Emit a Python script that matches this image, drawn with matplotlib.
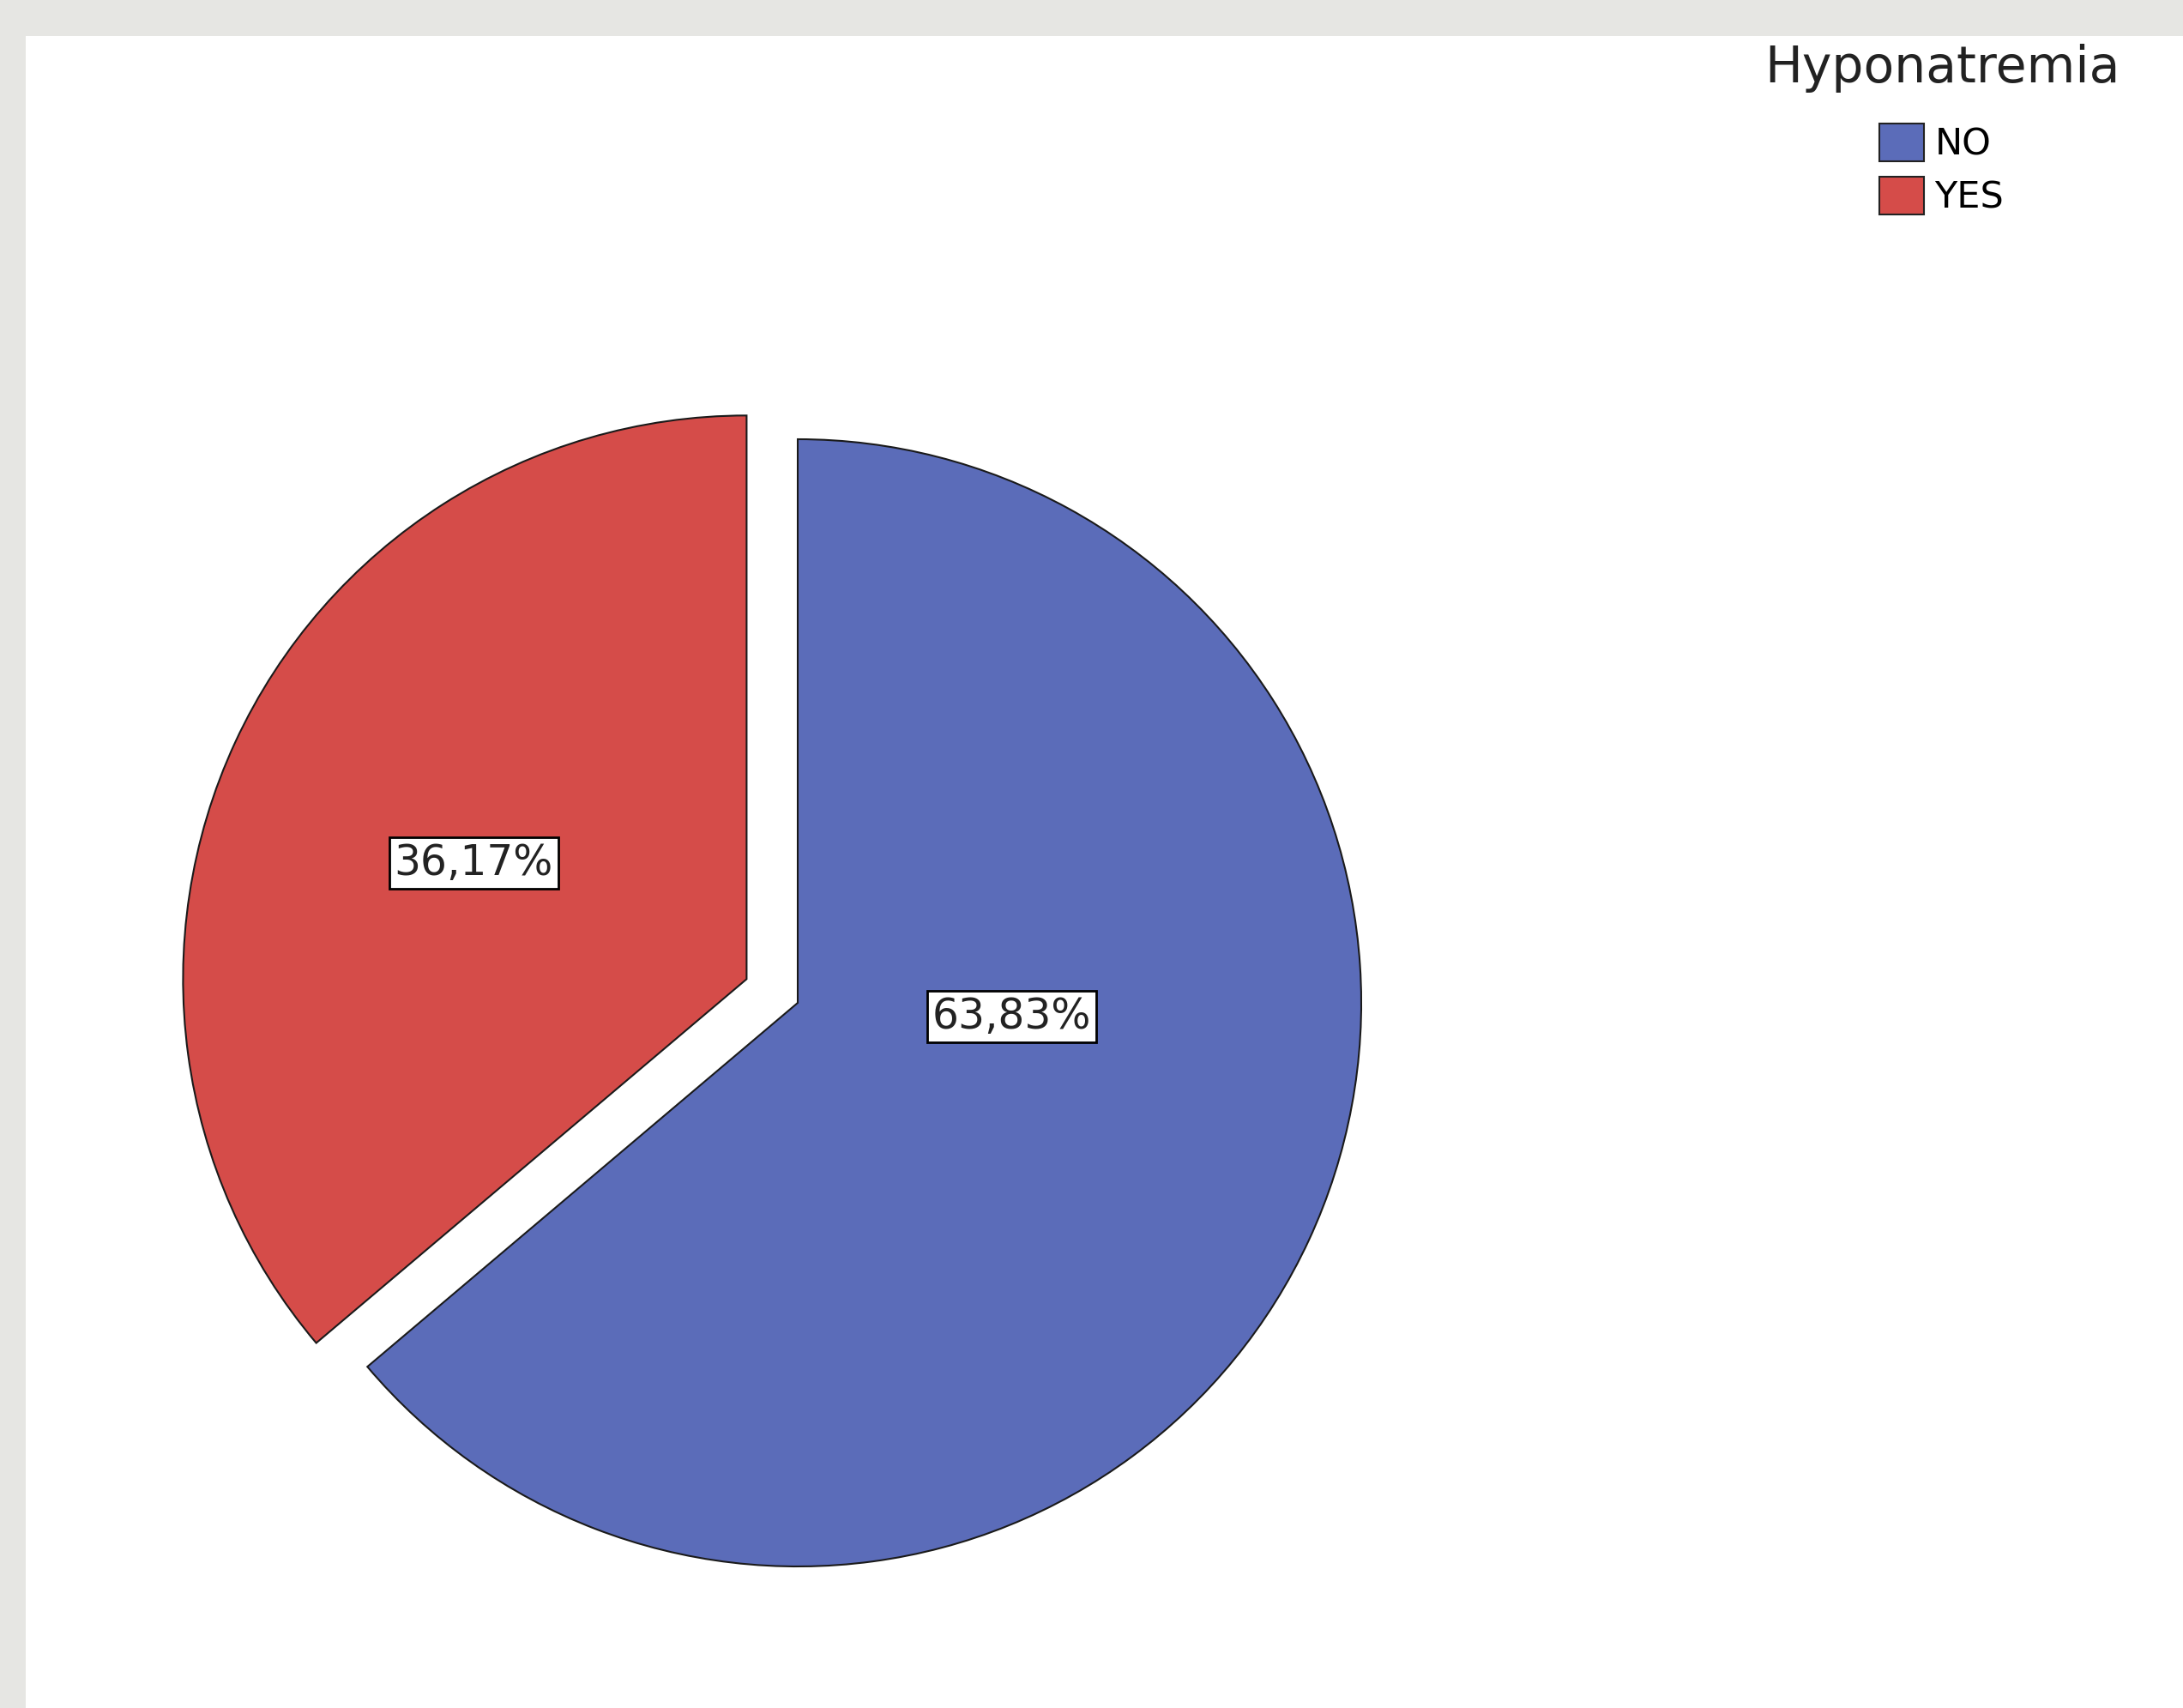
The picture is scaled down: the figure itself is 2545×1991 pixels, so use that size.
import matplotlib.pyplot as plt
from matplotlib.patches import Rectangle, Patch

categories = ['NO', 'YES']
percentages = [63.83, 36.17]
labels = ['63,83%', '36,17%']
colors = ['#5b6cb9', '#d54c49']
explode = [0, 0.1]

W, H = 2545, 1991
fig = plt.figure(figsize=(W / 100, H / 100), dpi=100)
fig.patch.set_facecolor('#e6e6e3')

# white panel inside the grey border
fig.add_artist(Rectangle((30 / W, 0), 1 - 30 / W, (H - 42) / H,
                         transform=fig.transFigure, facecolor='white',
                         edgecolor='none', zorder=0))

r_px = 657
cx, cy = 930, 1169
lim = 1.3
side = 2 * lim * r_px
ax = fig.add_axes([(cx - lim * r_px) / W, (H - cy - lim * r_px) / H,
                   side / W, side / H])
ax.set_facecolor('none')

wedges, texts, autotexts = ax.pie(percentages, colors=colors, explode=explode,
                                  startangle=90, counterclock=False,
                                  autopct='%1.2f%%', radius=1,
                                  wedgeprops=dict(edgecolor='#1a1a1a', linewidth=1.5))

label_pos = [(0.38, -0.024), (-0.575, 0.248)]
for t, lab, pos in zip(autotexts, labels, label_pos):
    t.set_text(lab)
    t.set_position(pos)
    t.set_fontsize(35)
    t.set_color('#222222')
    t.set_bbox(dict(boxstyle='square,pad=0.12', facecolor='white',
                    edgecolor='black', linewidth=2))

ax.set_xlim(-lim, lim)
ax.set_ylim(-lim, lim)
ax.set_aspect('equal')
ax.axis('off')

# legend title as separate text so the gap to the entries can be matched
fig.text(2264 / W, 1 - 80 / H, 'Hyponatremia', ha='center', va='center',
         fontsize=42, color='#222222')

handles = [Patch(facecolor=c, edgecolor='#222222', linewidth=1.5) for c in colors]
leg = fig.legend(handles, categories,
                 loc='upper left', bbox_to_anchor=(2191 / W, 1 - 144 / H),
                 frameon=False, fontsize=31, borderpad=0, borderaxespad=0,
                 handlelength=1.2, handleheight=1.2, labelspacing=0.38,
                 handletextpad=0.3)

fig.savefig('out.png', dpi=100, facecolor=fig.get_facecolor())
